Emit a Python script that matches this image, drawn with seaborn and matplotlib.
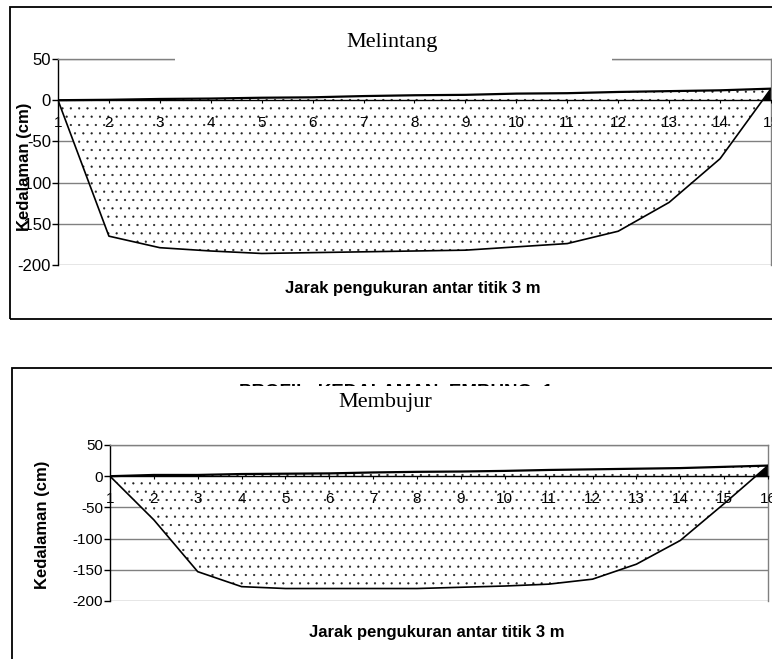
import numpy as np
import pandas as pd
import matplotlib
matplotlib.use("Agg")
import matplotlib.pyplot as plt
from matplotlib.patches import Rectangle
import seaborn as sns

# ---------------- data ----------------
titik_melintang = list(range(1, 16))
permukaan_melintang = [0, 0.5, 1.5, 2, 3, 3.5, 5, 6, 6.5, 8, 8.5, 10, 11, 12, 14]
dasar_melintang = [0, -165, -179, -183, -186, -185, -184, -183, -182, -178, -174, -159, -124, -71, 14]

titik_membujur = list(range(1, 17))
permukaan_membujur = [0, 2, 2, 3.5, 4, 4.5, 6, 7, 7.5, 8.5, 10, 11, 12, 13, 15, 17]
dasar_membujur = [0, -70, -153, -177, -180, -180, -180, -180, -178, -176, -173, -165, -141, -103, -44, 17]

y_ticks = [50, 0, -50, -100, -150, -200]
judul_atas = "Melintang"
judul_bawah = "Membujur"
judul_tersembunyi = "PROFIL  KEDALAMAN  EMBUNG  1"
label_x = "Jarak pengukuran antar titik 3 m"
label_y = "Kedalaman (cm)"

# ---------------- style ----------------
sns.set_theme(style="white")
plt.rcParams["font.family"] = ["Liberation Sans", "DejaVu Sans"]
plt.rcParams["axes.unicode_minus"] = False
plt.rcParams["hatch.linewidth"] = 0.35

W, H = 772, 659
fig = plt.figure(figsize=(W / 100, H / 100), dpi=100)
fig.patch.set_facecolor("white")


def fx(px):
    return px / W


def fy(py):
    return 1 - py / H


def panel(left, top, right, bottom, x, surf, dasar, ylab_px, xlab_px, ytick_fs):
    ax = fig.add_axes([fx(left), fy(bottom), (right - left) / W, (bottom - top) / H])
    ax.set_facecolor("white")
    df = pd.DataFrame({"x": x, "surf": surf, "dasar": dasar})
    xs = df["x"].to_numpy(float)
    d = df["dasar"].to_numpy(float)
    s = df["surf"].to_numpy(float)

    # dotted area between surface and bottom
    ax.fill_between(xs, s, d, facecolor="white", edgecolor="#202020",
                    hatch="..", linewidth=0, zorder=1)
    # black part where the bottom line rises above 0
    ax.fill_between(xs, 0, d, where=d > 0, interpolate=True,
                    color="black", linewidth=0, zorder=1.2)

    sns.lineplot(data=df, x="x", y="surf", color="black", linewidth=1.6,
                 ax=ax, zorder=3)
    sns.lineplot(data=df, x="x", y="dasar", color="black", linewidth=1.2,
                 ax=ax, zorder=3)

    ax.set_xlim(min(x), max(x))
    ax.set_ylim(-200, 50)
    ax.set_yticks(y_ticks)
    ax.set_yticklabels([str(v) for v in y_ticks])
    ax.set_xticks(x)
    ax.set_xticklabels([str(v) for v in x])

    ax.set_axisbelow(True)
    ax.yaxis.grid(True, color="#808080", linewidth=1.0)
    ax.xaxis.grid(False)
    ax.xaxis.set_zorder(3)

    for side in ("top", "right"):
        ax.spines[side].set_visible(True)
        ax.spines[side].set_color("#808080")
        ax.spines[side].set_linewidth(1.0)
    ax.spines["left"].set_color("black")
    ax.spines["left"].set_linewidth(1.0)
    ax.spines["bottom"].set_position(("data", 0))
    ax.spines["bottom"].set_color("black")
    ax.spines["bottom"].set_linewidth(1.0)
    ax.spines["bottom"].set_zorder(2.6)

    ax.tick_params(axis="y", left=True, direction="out", length=4, width=1,
                   color="black", labelsize=ytick_fs, pad=1, labelcolor="black")
    ax.tick_params(axis="x", bottom=True, direction="out", length=2.5, width=0.8,
                   color="black", labelsize=11, pad=9, labelcolor="black")

    ax.set_ylabel(label_y, fontsize=12, fontweight="bold", color="black",
                  va="center")
    ax.yaxis.set_label_coords((ylab_px[0] - left) / (right - left),
                              (bottom - ylab_px[1]) / (bottom - top))
    ax.set_xlabel(label_x, fontsize=12, fontweight="bold", color="black",
                  va="center")
    ax.xaxis.set_label_coords((xlab_px[0] - left) / (right - left),
                              (bottom - xlab_px[1]) / (bottom - top))
    return ax


ax1 = panel(58, 59, 771, 265, titik_melintang, permukaan_melintang,
            dasar_melintang, (25, 167), (413, 288), 12)
ax2 = panel(110, 445, 768, 601, titik_membujur, permukaan_membujur,
            dasar_membujur, (43, 525), (437, 632), 11)

# ---------- chart frames ----------
fig.add_artist(Rectangle((fx(10), fy(319)), (W + 20) / W, (319 - 7) / H,
                         transform=fig.transFigure, fill=False,
                         edgecolor="black", linewidth=1.3, zorder=4))
fig.add_artist(Rectangle((fx(12), fy(H + 20)), (W + 20) / W, (H + 20 - 368) / H,
                         transform=fig.transFigure, fill=False,
                         edgecolor="black", linewidth=1.3, zorder=4))

# ---------- titles ----------
fig.add_artist(Rectangle((fx(175), fy(66)), (612 - 175) / W, (66 - 16) / H,
                         transform=fig.transFigure, facecolor="white",
                         edgecolor="none", zorder=5))
fig.text(fx(392), fy(42), judul_atas, family=["Liberation Serif", "DejaVu Serif"],
         fontsize=16, ha="center", va="center", color="black", zorder=6)

fig.text(fx(396), fy(397), judul_tersembunyi, fontsize=13.5, fontweight="bold",
         ha="center", va="baseline", color="black", zorder=4.5)
fig.add_artist(Rectangle((fx(150), fy(438)), (650 - 150) / W, (438 - 386) / H,
                         transform=fig.transFigure, facecolor="white",
                         edgecolor="none", zorder=5))
fig.text(fx(385), fy(402), judul_bawah, family=["Liberation Serif", "DejaVu Serif"],
         fontsize=16, ha="center", va="center", color="black", zorder=6)

fig.savefig("out.png", dpi=100, facecolor="white")
